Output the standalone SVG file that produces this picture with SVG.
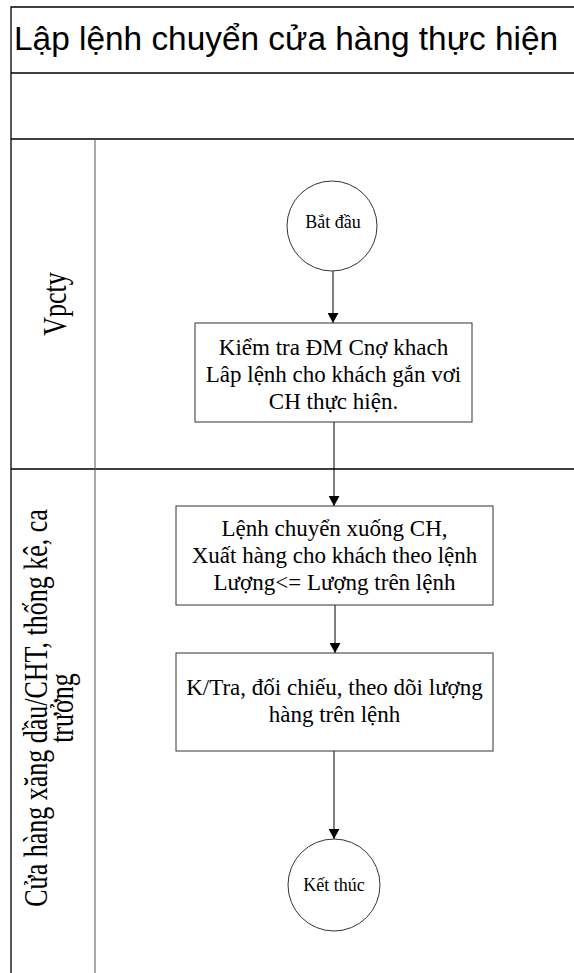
<svg xmlns="http://www.w3.org/2000/svg" width="574" height="973" viewBox="0 0 574 973">
<style>
.frame{fill:none;stroke:#000;stroke-width:1.3}
.div{fill:none;stroke:#555;stroke-width:1}
.node{fill:#fff;stroke:#333;stroke-width:1}
.t{font-family:"Liberation Serif","Times New Roman",serif;fill:#000;text-anchor:middle}
.box{font-size:23px}
.circ{font-size:18px}
.lane{font-size:26px}
.title{font-family:"Liberation Sans",Arial,sans-serif;font-size:33.4px;fill:#000}
.conn{fill:none;stroke:#000;stroke-width:1}
</style>
<defs>
<marker id="arr" markerWidth="12" markerHeight="11" refX="11" refY="6" orient="auto" markerUnits="userSpaceOnUse" viewBox="0 0 11 12">
<path d="M0,0 L11,6 L0,12 Z" fill="#000"/>
</marker>
</defs>
<rect width="574" height="973" fill="#fff"/>
<g id="pool">
<path class="frame" d="M11,973 V7 H574 M11,73 H574 M11,139 H574 M11,469 H574"/>
<path class="div" d="M95,139 V973"/>
<text class="title" x="14" y="50">Lập lệnh chuyển cửa hàng thực hiện</text>
</g>
<g id="lane-vpcty">
<text class="t lane" transform="translate(66,304) rotate(-90) scale(1,1.27)" x="0" y="0">Vpcty</text>
</g>
<g id="lane-cuahang">
<text class="t lane" transform="translate(47,708) rotate(-90) scale(1,1.27)"><tspan x="0" y="0">Cửa hàng xăng dầu/CHT, thống kê, ca</tspan><tspan x="0" y="20.5">trưởng</tspan></text>
</g>
<g id="connectors">
<line class="conn" x1="333" y1="271" x2="333" y2="323" marker-end="url(#arr)"/>
<line class="conn" x1="334" y1="422" x2="334" y2="506" marker-end="url(#arr)"/>
<line class="conn" x1="335" y1="605" x2="335" y2="653" marker-end="url(#arr)"/>
<line class="conn" x1="334" y1="751" x2="334" y2="839" marker-end="url(#arr)"/>
</g>
<g id="start">
<circle class="node" cx="332" cy="226" r="45"/>
<text class="t circ" x="333" y="228">Bắt đầu</text>
</g>
<g id="box1">
<rect class="node" x="195" y="323" width="277" height="99"/>
<text class="t box"><tspan x="333.5" y="355">Kiểm tra ĐM Cnợ khach</tspan><tspan x="333.5" y="382">Lâp lệnh cho khách gắn vơi</tspan><tspan x="333.5" y="409">CH thực hiện.</tspan></text>
</g>
<g id="box2">
<rect class="node" x="176" y="506" width="317" height="99"/>
<text class="t box"><tspan x="334.5" y="536">Lệnh chuyển xuống CH,</tspan><tspan x="334.5" y="563">Xuất hàng cho khách theo lệnh</tspan><tspan x="334.5" y="590">Lượng&lt;= Lượng trên lệnh</tspan></text>
</g>
<g id="box3">
<rect class="node" x="176" y="653" width="317" height="98"/>
<text class="t box"><tspan x="334.5" y="695">K/Tra, đối chiếu, theo dõi lượng</tspan><tspan x="334.5" y="722">hàng trên lệnh</tspan></text>
</g>
<g id="end">
<circle class="node" cx="334" cy="885" r="46"/>
<text class="t circ" x="334" y="891">Kết thúc</text>
</g>
</svg>
